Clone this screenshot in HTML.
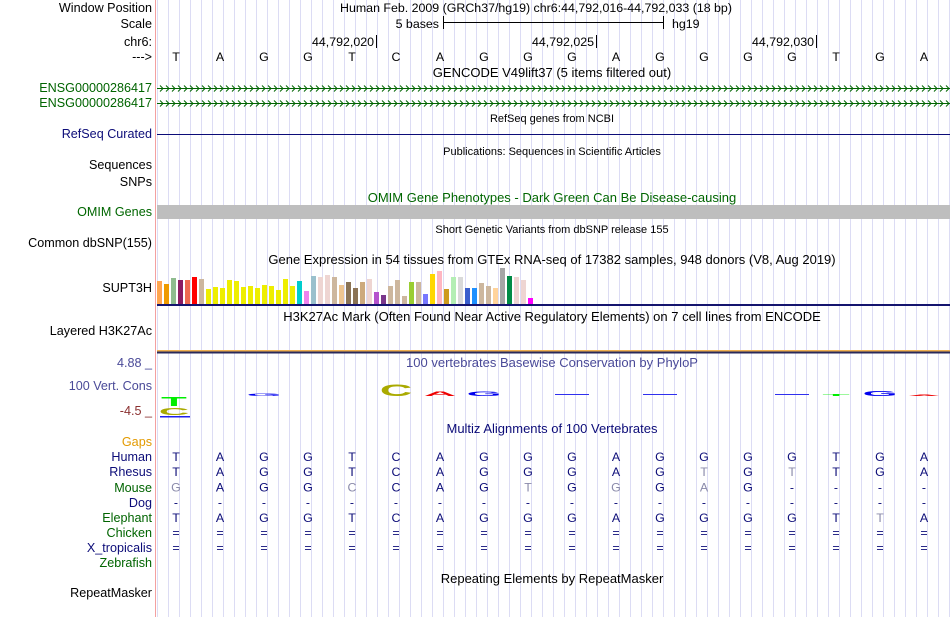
<!DOCTYPE html>
<html><head><meta charset="utf-8"><style>
html,body{margin:0;padding:0;background:#fff;}
svg{display:block;font-family:"Liberation Sans",sans-serif;}
</style></head><body>
<svg id="page" width="950" height="617" viewBox="0 0 950 617" xmlns="http://www.w3.org/2000/svg">
<g id="grid"></g>
<line x1="155.5" y1="0" x2="155.5" y2="617" stroke="#f4a0a0"/>
<g font-size="12.6" text-anchor="end" id="labels">
<text x="152" y="12" fill="#000">Window Position</text>
<text x="152" y="28" fill="#000">Scale</text>
<text x="152" y="46" fill="#000">chr6:</text>
<text x="152" y="61" fill="#000">---&gt;</text>
<text x="152" y="92" fill="#006400">ENSG00000286417</text>
<text x="152" y="107" fill="#006400">ENSG00000286417</text>
<text x="152" y="138" fill="#0c0c78">RefSeq Curated</text>
<text x="152" y="169" fill="#000">Sequences</text>
<text x="152" y="186" fill="#000">SNPs</text>
<text x="152" y="216" fill="#006600">OMIM Genes</text>
<text x="152" y="247" fill="#000">Common dbSNP(155)</text>
<text x="152" y="292" fill="#000">SUPT3H</text>
<text x="152" y="335" fill="#000">Layered H3K27Ac</text>
<text x="152" y="367" fill="#4a4a98">4.88 _</text>
<text x="152" y="390" fill="#4a4a98">100 Vert. Cons</text>
<text x="152" y="415" fill="#8b3030">-4.5 _</text>
<text x="152" y="446" fill="#e39a00">Gaps</text>
<text x="152" y="461" fill="#0c0c78">Human</text>
<text x="152" y="476" fill="#0c0c78">Rhesus</text>
<text x="152" y="492" fill="#006400">Mouse</text>
<text x="152" y="507" fill="#0c0c78">Dog</text>
<text x="152" y="522" fill="#006400">Elephant</text>
<text x="152" y="537" fill="#006400">Chicken</text>
<text x="152" y="552" fill="#0c0c78">X_tropicalis</text>
<text x="152" y="567" fill="#006400">Zebrafish</text>
<text x="152" y="597" fill="#000">RepeatMasker</text>
</g>
<g font-size="13" text-anchor="middle">
<text x="536" y="12" font-size="12.4">Human Feb. 2009 (GRCh37/hg19)   chr6:44,792,016-44,792,033 (18 bp)</text>
<text x="552" y="77">GENCODE V49lift37 (5 items filtered out)</text>
<text x="552" y="122" font-size="11">RefSeq genes from NCBI</text>
<text x="552" y="155" font-size="11">Publications: Sequences in Scientific Articles</text>
<text x="552" y="202" fill="#006600">OMIM Gene Phenotypes - Dark Green Can Be Disease-causing</text>
<text x="552" y="233" font-size="11">Short Genetic Variants from dbSNP release 155</text>
<text x="552" y="264">Gene Expression in 54 tissues from GTEx RNA-seq of 17382 samples, 948 donors (V8, Aug 2019)</text>
<text x="552" y="321">H3K27Ac Mark (Often Found Near Active Regulatory Elements) on 7 cell lines from ENCODE</text>
<text x="552" y="367" fill="#4a4a98">100 vertebrates Basewise Conservation by PhyloP</text>
<text x="552" y="433" fill="#0c0c78">Multiz Alignments of 100 Vertebrates</text>
<text x="552" y="583">Repeating Elements by RepeatMasker</text>
</g>
<g>
<text x="439" y="28" font-size="12.4" text-anchor="end">5 bases</text>
<line x1="443" y1="22.5" x2="663" y2="22.5" stroke="#000"/>
<line x1="443.5" y1="16" x2="443.5" y2="29" stroke="#000"/>
<line x1="663.5" y1="16" x2="663.5" y2="29" stroke="#000"/>
<text x="672" y="28" font-size="12.4">hg19</text>
</g>
<g id="ruler" font-size="12.4" text-anchor="end"></g>
<g id="bases" font-size="12.4" text-anchor="middle"></g>
<g id="genes"></g>
<line x1="157" y1="134.5" x2="950" y2="134.5" stroke="#0c0c78"/>
<rect x="157" y="205" width="793" height="14" fill="#bebebe"/>
<g id="gtex"></g>
<rect x="157" y="304" width="793" height="2" fill="#14146e"/>
<rect x="157" y="350" width="793" height="1.5" fill="#f0b050"/>
<rect x="157" y="351.5" width="793" height="2" fill="#2a2a5a"/>
<g id="cons"></g>
<g id="align" font-size="12.4" text-anchor="middle"></g>
<script>
const NS='http://www.w3.org/2000/svg';
const refBases=['T','A','G','G','T','C','A','G','G','G','A','G','G','G','G','T','G','A'];
const rulerLabels=['44,792,020','44,792,025','44,792,030'];
const rulerIdx=[4,9,14];
const gtexHeights=[23,20,26,24,24,27,25,15,17,16,24,23,17,18,16,19,18,14,25,18,23,13,28,27,29,27,19,22,16,22,25,12,9,18,24,8,22,22,10,30,33,15,27,27,16,16,21,18,16,36,28,27,24,6];
const gtexColors=['#FFA54F','#EE9A00','#8FBC8F','#8B1C62','#EE6A50','#FF0000','#CDB79E','#EEEE00','#EEEE00','#EEEE00','#EEEE00','#EEEE00','#EEEE00','#EEEE00','#EEEE00','#EEEE00','#EEEE00','#EEEE00','#EEEE00','#EEEE00','#00CDCD','#EE82EE','#9AC0CD','#EED5D2','#EED5D2','#CDB79E','#EEC591','#8B7355','#8B7355','#CDAA7D','#EED5D2','#B452CD','#7A378B','#CDB79E','#CDB79E','#CDB79E','#9ACD32','#CDB79E','#7777FF','#FFD700','#FFB6C1','#CD9B1D','#B4EEB4','#D9D9D9','#3A5FCD','#1E90FF','#CDB79E','#CDB79E','#FFD39B','#A6A6A6','#008B45','#EED5D2','#EED5D2','#FF00FF'];
const alignRows=['TAGGTCAGGGAGGGGTGA','TAGGTCAGGGAGTGTTGA','GAGGCCAGTGGGAG----','------------------','TAGGTCAGGGAGGGGTTA','==================','=================='];
const alignGray=['000000000000000000','000000000000101000','100010001010100000','000000000000000000','000000000000000010','000000000000000000','000000000000000000'];
const consBases=['G','C','A','G','-','-','-','T','G','A'];
const consIdx=[2,5,6,7,9,11,14,15,16,17];
const consVals=[0.25,1.2,0.45,0.45,0.1,0.1,0.1,0.2,0.55,0.15];
const x0=154,bw=44;
const xb=i=>x0+bw*i+bw/2;
function mk(tag,attrs,parent){const e=document.createElementNS(NS,tag);for(const k in attrs)e.setAttribute(k,attrs[k]);parent.appendChild(e);return e;}
const grid=document.getElementById('grid');
for(let x=157;x<950;x+=11){const l=mk('line',{x1:x+.5,y1:0,x2:x+.5,y2:617,stroke:'#dcdcf4'},grid);

}
const ruler=document.getElementById('ruler');
rulerIdx.forEach((idx,k)=>{const x=x0+bw*(idx+1)+2;
const t=mk('text',{x:x-2,y:46},ruler);t.textContent=rulerLabels[k];


const l=mk('line',{x1:x+.5,y1:35,x2:x+.5,y2:48,stroke:'#000'},ruler);

});
const bases=document.getElementById('bases');
refBases.forEach((b,i)=>{const t=mk('text',{x:xb(i),y:61},bases);t.textContent=b;

});
const genes=document.getElementById('genes');
[88,103].forEach((y)=>{const l=mk('line',{x1:157,y1:y+.5,x2:950,y2:y+.5,stroke:'#006400'},genes);


let d='';for(let x=160;x<948;x+=6){d+=`M${x},${y-2.5}L${x+3},${y+.5}L${x},${y+3.5}`;}
const p=mk('path',{d:d,stroke:'#006400',fill:'none','stroke-width':1},genes);

});
const gtex=document.getElementById('gtex');
const gBase=304,gScale=1.0;
gtexHeights.forEach((h,i)=>{const r=mk('rect',{x:157+i*7.0,y:gBase-h*gScale,width:5,height:h*gScale,fill:gtexColors[i]},gtex);

});
const cons=document.getElementById('cons');
const colors={T:'#00ee00',C:'#aaaa00',A:'#ee0000',G:'#0000ee','-':'#0000ee'};
const cBase=396;
consIdx.forEach((idx,k)=>{const b=consBases[k],v=consVals[k],x=xb(idx);
if(b==='-'){const r=mk('rect',{x:x-17,y:cBase-2,width:34,height:1,fill:'#3030ee'},cons);

return;}
const t=mk('text',{x:0,y:0,'text-anchor':'middle','font-size':14,'font-weight':'bold',fill:colors[b],transform:`translate(${x},${cBase}) scale(3.2,${v})`},cons);
t.textContent=b;

});
{const t=mk('text',{x:0,y:0,'text-anchor':'middle','font-size':14,'font-weight':'bold',fill:'#00ee00',transform:`translate(174,406) scale(3.0,0.9)`},cons);t.textContent='T';


const c=mk('text',{x:0,y:0,'text-anchor':'middle','font-size':14,'font-weight':'bold',fill:'#aaaa00',transform:`translate(174,415) scale(3.0,0.75)`},cons);c.textContent='C';


const r=mk('rect',{x:160,y:416,width:30,height:1.5,fill:'#2020ee'},cons);

}
const align=document.getElementById('align');
alignRows.forEach((row,r)=>{const y=461+r*15.2;
row.split('').forEach((c,i)=>{const t=mk('text',{x:xb(i),y:y,fill:alignGray[r][i]==='1'?'#8a8aaa':'#0c0c78'},align);t.textContent=c;

});});
</script>
</svg>
</body></html>
